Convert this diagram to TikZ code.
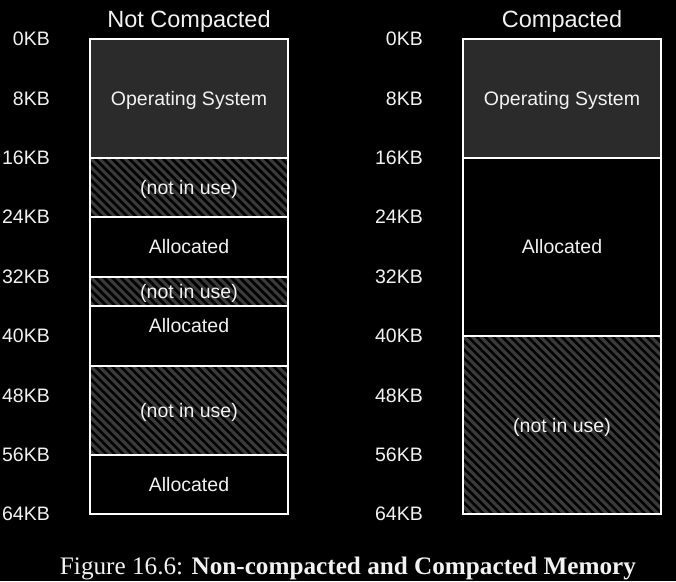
\documentclass[tikz,border=0pt]{standalone}
\usepackage{fontspec}
\setmainfont{Liberation Sans}
\newfontfamily\capfont{Liberation Serif}
\definecolor{osgray}{HTML}{2B2B2B}
\definecolor{hatchgray}{HTML}{3A3A3A}
\definecolor{txt}{HTML}{F2F2F2}
\newcommand\memreg[6]{%
  \pgfmathsetmacro\rh{#4-#3}%
  \pgfmathsetmacro\rc{(#3+#4)/2}%
  \node[#5, minimum height=\rh pt] (#1) at (#2,\rc) {#6};}
\begin{document}
\begin{tikzpicture}[x=1pt,y=-1pt,
  region/.style={draw=white, line width=2pt, minimum width=198pt, inner sep=0pt, outer sep=0pt,
    text=txt, text depth=0pt, font=\fontsize{19.5}{22}\selectfont},
  osreg/.style={region, fill=osgray},
  allocreg/.style={region, fill=black},
  freereg/.style={region, fill=black, path picture={
      \foreach \i in {-30,...,30}
        \draw[hatchgray, line width=3.1pt]
          ([xshift=\i*8.5pt]path picture bounding box.north west) -- ++(260pt,-260pt);
    }},
  kb/.style={text=txt, anchor=east, inner sep=0pt, text depth=0pt, font=\fontsize{19.5}{22}\selectfont},
  ttl/.style={text=txt, inner sep=0pt, text depth=0pt, font=\fontsize{23.5}{26}\selectfont},
  captext/.style={text=txt, inner sep=0pt, font=\capfont\fontsize{25.2}{28}\selectfont}]
\fill[black] (0,0) rectangle (676,581);
\useasboundingbox (0,0) rectangle (676,581);

% titles
\node[ttl] (t1) at (189,19) {Not Compacted};
\node[ttl] (t2) at (562,19) {Compacted};

% left column (not compacted)
\memreg{l1}{189}{39}{157.75}{osreg}{Operating System}
\memreg{l2}{189}{157.75}{217.125}{freereg}{(not in use)}
\memreg{l3}{189}{217.125}{276.5}{allocreg}{Allocated}
\memreg{l4}{189}{276.5}{306.19}{freereg}{(not in use)}
\memreg{l5}{189}{306.19}{365.56}{allocreg}{}
\memreg{l6}{189}{365.56}{454.6}{freereg}{(not in use)}
\memreg{l7}{189}{454.6}{514}{allocreg}{Allocated}
\node[text=txt, inner sep=0pt, text depth=0pt, font=\fontsize{19.5}{22}\selectfont] (l5t) at (189,325) {Allocated};

% right column (compacted)
\memreg{r1}{562}{39}{157.75}{osreg}{Operating System}
\memreg{r2}{562}{157.75}{335.9}{allocreg}{Allocated}
\memreg{r3}{562}{335.9}{514}{freereg}{(not in use)}

% address labels
\foreach \k/\lab in {0/0KB,1/8KB,2/16KB,3/24KB,4/32KB,5/40KB,6/48KB,7/56KB,8/64KB}{
  \node[kb] (la\k) at (50,{39+59.375*\k}) {\lab};
  \node[kb] (ra\k) at (423,{39+59.375*\k}) {\lab};
}

% caption
\node[captext] (caption) at (348,568) {Figure 16.6: \textbf{Non-compacted and Compacted Memory}};
\end{tikzpicture}
\end{document}
